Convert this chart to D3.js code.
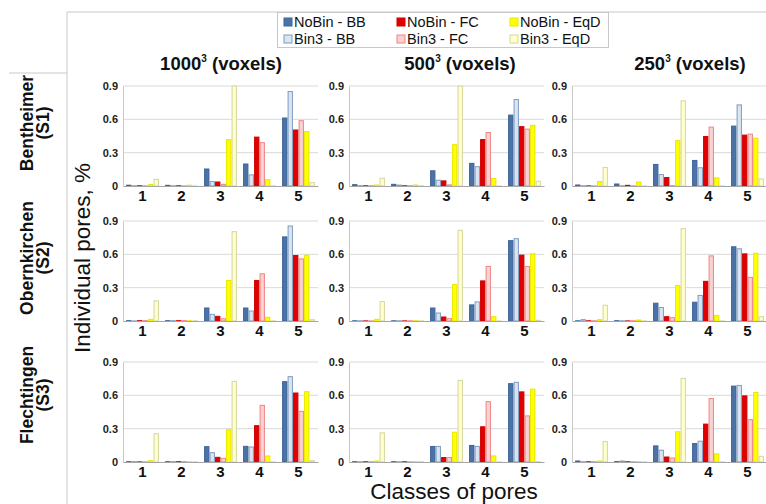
<!DOCTYPE html>
<html>
<head>
<meta charset="utf-8">
<script src="https://cdn.jsdelivr.net/npm/d3@7"></script>
<style>
    body { margin: 0; background: #fff; }
    svg { display: block; font-family: "Liberation Sans", Arial, sans-serif; }
    .tick-label { font-size: 11px; font-weight: bold; fill: #222; }
    .cat-label { font-size: 15px; font-weight: bold; fill: #111; }
    .legend-text { font-size: 14.5px; fill: #111; }
</style>
</head>
<body>
<svg id="chart" width="766" height="504"></svg>
<script>
// Classes of pores and series
const classes = ["1", "2", "3", "4", "5"];
const seriesNames = ["NoBin - BB", "Bin3 - BB", "NoBin - FC", "Bin3 - FC", "NoBin - EqD", "Bin3 - EqD"];
const yTicks = [0, 0.3, 0.6, 0.9];
const resolutions = ["1000", "500", "250"];
const samples = [["Bentheimer", "(S1)"], ["Obernkirchen", "(S2)"], ["Flechtingen", "(S3)"]];

// one array per panel, rows = series (same order as seriesNames), cols = classes
const bent1000 = [
    [0.007, 0.006, 0.153, 0.198, 0.612],
    [0.002, 0.002, 0.04, 0.10, 0.85],
    [0.002, 0.002, 0.036, 0.44, 0.504],
    [0.001, 0.001, 0.015, 0.39, 0.588],
    [0.013, 0.007, 0.417, 0.057, 0.49],
    [0.06, 0.001, 0.9, 0.001, 0.03]
];
const bent500 = [
    [0.012, 0.015, 0.137, 0.204, 0.638],
    [0.003, 0.008, 0.052, 0.174, 0.778],
    [0.002, 0.002, 0.046, 0.418, 0.534],
    [0.002, 0.002, 0.01, 0.482, 0.512],
    [0.009, 0.009, 0.372, 0.067, 0.546],
    [0.07, 0.002, 0.9, 0.001, 0.043]
];
const bent250 = [
    [0.009, 0.018, 0.194, 0.23, 0.539],
    [0.002, 0.002, 0.103, 0.164, 0.73],
    [0.001, 0.006, 0.076, 0.445, 0.458],
    [0.001, 0.002, 0.003, 0.53, 0.467],
    [0.04, 0.036, 0.409, 0.073, 0.43],
    [0.167, 0.001, 0.767, 0.001, 0.064]
];
const obern1000 = [
    [0.003, 0.003, 0.117, 0.117, 0.757],
    [0.001, 0.003, 0.06, 0.09, 0.855],
    [0.003, 0.003, 0.042, 0.365, 0.589],
    [0.003, 0.003, 0.02, 0.425, 0.559],
    [0.015, 0.003, 0.365, 0.033, 0.592],
    [0.182, 0.002, 0.804, 0.001, 0.012]
];
const obern500 = [
    [0.002, 0.002, 0.117, 0.145, 0.723],
    [0.002, 0.002, 0.072, 0.172, 0.741],
    [0.001, 0.001, 0.036, 0.361, 0.593],
    [0.001, 0.002, 0.021, 0.491, 0.491],
    [0.015, 0.003, 0.328, 0.039, 0.605],
    [0.175, 0.001, 0.816, 0.001, 0.006]
];
const obern250 = [
    [0.002, 0.003, 0.16, 0.169, 0.668],
    [0.012, 0.002, 0.121, 0.23, 0.65],
    [0.002, 0.001, 0.039, 0.357, 0.604],
    [0.002, 0.002, 0.03, 0.586, 0.393],
    [0.012, 0.009, 0.32, 0.051, 0.61],
    [0.142, 0.001, 0.831, 0.001, 0.039]
];
const flech1000 = [
    [0.003, 0.003, 0.138, 0.141, 0.723],
    [0.003, 0.003, 0.084, 0.135, 0.768],
    [0.001, 0.003, 0.042, 0.327, 0.621],
    [0.001, 0.003, 0.033, 0.51, 0.456],
    [0.012, 0.002, 0.291, 0.054, 0.633],
    [0.255, 0.002, 0.726, 0.001, 0.012]
];
const flech500 = [
    [0.003, 0.003, 0.14, 0.149, 0.705],
    [0.002, 0.002, 0.14, 0.14, 0.717],
    [0.002, 0.002, 0.04, 0.317, 0.631],
    [0.002, 0.001, 0.04, 0.543, 0.415],
    [0.009, 0.003, 0.268, 0.055, 0.656],
    [0.262, 0.002, 0.735, 0.001, 0.003]
];
const flech250 = [
    [0.009, 0.004, 0.145, 0.166, 0.683],
    [0.002, 0.009, 0.106, 0.187, 0.689],
    [0.002, 0.002, 0.045, 0.341, 0.595],
    [0.002, 0.002, 0.036, 0.571, 0.381],
    [0.009, 0.003, 0.272, 0.073, 0.625],
    [0.184, 0.001, 0.752, 0.001, 0.051]
];

const panels = [
    [bent1000, bent500, bent250],
    [obern1000, obern500, obern250],
    [flech1000, flech500, flech250]
];

// fills and outlines per series
const fills = ["#4a74a8", "#dbe5f1", "#e00000", "#f6d2d2", "#ffff00", "#ffffcc"];
const strokes = ["#3d6498", "#7f9bbf", "#d00000", "#f08484", "#e8e800", "#d6d6a0"];

const svg = d3.select("#chart");

// layout
const colX = [123, 349, 572];
const rowY = [86, 221, 362];
const panelW = 195;
const panelH = 100;

// table lines
svg.append("line").attr("x1", 67).attr("x2", 67).attr("y1", 12).attr("y2", 504)
    .attr("stroke", "#c8c8c8");
svg.append("line").attr("x1", 67).attr("x2", 766).attr("y1", 12).attr("y2", 12)
    .attr("stroke", "#c8c8c8");
svg.append("line").attr("x1", 9).attr("x2", 67).attr("y1", 73).attr("y2", 73)
    .attr("stroke", "#c8c8c8");

// scales shared by all panels
let x = d3.scaleBand().domain(classes).range([0, panelW]).paddingInner(0.15).paddingOuter(0.075);
let xs = d3.scaleBand().domain(d3.range(seriesNames.length)).range([0, x.bandwidth()]).padding(0.03);
let y = d3.scaleLinear().domain([0, 0.9]).range([panelH, 0]);

panels.forEach((row, r) => {
    row.forEach((data, c) => {
        let g = svg.append("g")
            .attr("transform", "translate(" + colX[c] + "," + rowY[r] + ")");

        // gridlines
        g.append("g")
            .selectAll("line")
            .data(yTicks.filter(t => t > 0))
            .enter().append("line")
            .attr("x1", 0).attr("x2", panelW)
            .attr("y1", d => y(d)).attr("y2", d => y(d))
            .attr("stroke", "#d9d9d9");

        // y axis
        let yAxis = d3.axisLeft(y).tickValues(yTicks).tickSize(0).tickPadding(5)
            .tickFormat(d => d === 0 ? "0" : d3.format(".1f")(d));
        let ya = g.append("g").call(yAxis);
        ya.select(".domain").attr("stroke", "#c8c8c8");
        ya.selectAll("text").attr("class", "tick-label");

        // bars
        g.append("g")
            .selectAll("g")
            .data(data)
            .enter().append("g")
            .each(function (vals, s) {
                d3.select(this).selectAll("rect")
                    .data(vals)
                    .enter().append("rect")
                    .attr("x", (d, i) => x(classes[i]) + xs(s) + 0.5)
                    .attr("y", d => y(d))
                    .attr("width", xs.bandwidth() - 1)
                    .attr("height", d => panelH - y(d))
                    .attr("fill", fills[s])
                    .attr("stroke", strokes[s])
                    .attr("stroke-width", 1);
            });

        // x axis
        let xAxis = d3.axisBottom(x).tickSize(0).tickPadding(4);
        let xa = g.append("g")
            .attr("transform", "translate(0," + panelH + ")")
            .call(xAxis);
        xa.select(".domain").attr("stroke", "#a6a6a6");
        xa.selectAll("text").attr("class", "cat-label");
    });
});

// column headers
resolutions.forEach((res, c) => {
    let t = svg.append("text")
        .attr("x", [221, 460, 690][c])
        .attr("y", 70)
        .attr("text-anchor", "middle")
        .attr("font-size", 18.5)
        .attr("font-weight", "bold")
        .attr("fill", "#111");
    t.append("tspan").text(res);
    t.append("tspan").attr("font-size", 10).attr("dy", -8).text("3");
    t.append("tspan").attr("dy", 8).text(" (voxels)");
});

// row headers
const rowCenter = [123, 258, 395];
samples.forEach((lines, r) => {
    let t = svg.append("text")
        .attr("transform", "translate(0," + rowCenter[r] + ") rotate(-90)")
        .attr("text-anchor", "middle")
        .attr("font-size", 17.5)
        .attr("font-weight", "bold")
        .attr("fill", "#111");
    t.append("tspan").attr("x", 0).attr("y", 33).text(lines[0]);
    t.append("tspan").attr("x", 0).attr("y", 49).text(lines[1]);
});

// axis titles
svg.append("text")
    .attr("transform", "translate(90,258) rotate(-90)")
    .attr("text-anchor", "middle")
    .attr("font-size", 22.5)
    .attr("fill", "#111")
    .text("Individual pores, %");

svg.append("text")
    .attr("x", 454)
    .attr("y", 499)
    .attr("text-anchor", "middle")
    .attr("font-size", 22.5)
    .attr("fill", "#111")
    .text("Classes of pores");

// legend
let legend = svg.append("g");
legend.append("rect")
    .attr("x", 277.5).attr("y", 12.5)
    .attr("width", 331).attr("height", 35)
    .attr("fill", "#fff")
    .attr("stroke", "#c8c8c8");

const legX = [284, 397, 510];
const legY = [22, 39];
seriesNames.forEach((name, s) => {
    let col = Math.floor(s / 2);
    let row = s % 2;
    legend.append("rect")
        .attr("x", legX[col]).attr("y", legY[row] - 4)
        .attr("width", 8).attr("height", 8)
        .attr("fill", fills[s])
        .attr("stroke", strokes[s]);
    legend.append("text")
        .attr("class", "legend-text")
        .attr("x", legX[col] + 10)
        .attr("y", legY[row] + 5)
        .text(name);
});
</script>
</body>
</html>
